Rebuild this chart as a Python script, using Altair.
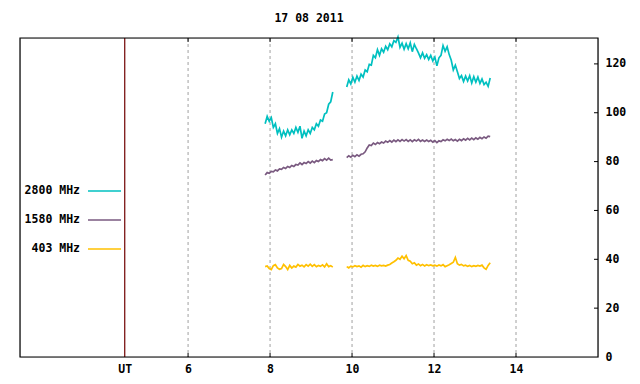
import altair as alt
import pandas as pd

# ---- data ----
SERIES = ["2800 MHz", "1580 MHz", "403 MHz"]
COLORS = ["#00c0c0", "#7a5a80", "#ffc000"]

SEG1_START, SEG1_STEP, SEG1_N = 7.88, 0.05, 34
SEG2_START, SEG2_STEP, SEG2_N = 9.87, 0.05, 71

f2800_s1 = [95.5, 98.5, 96.5, 98, 94, 95.5, 91.5, 93.5, 90, 92.5, 90.5, 93, 91, 93, 91.5, 94,
            92, 94.5, 89.5, 92.5, 90.5, 93, 91.5, 94, 93, 95.5, 94.5, 97, 96.5, 99.5, 100, 103.5,
            104.5, 108.5]
f1580_s1 = [74.5, 75.5, 75.2, 76, 75.8, 76.6, 76.2, 77, 76.8, 77.6, 77.2, 78, 77.6, 78.4, 78, 78.8,
            78.6, 79.5, 78.8, 79.6, 79.2, 80, 79.4, 80.2, 79.6, 80.4, 80, 80.8, 80.4, 81.2, 80.6, 81.4,
            80.6, 80.8]
f403_s1 = [37, 37.3, 36.2, 35.8, 37.4, 37.8, 36.5, 35.9, 36.2, 37.9, 37, 35.8, 37.5, 36.4, 37.2, 36.8,
           37.9, 37.2, 37.6, 36.9, 37.8, 37.2, 38, 37.1, 37.8, 37, 37.5, 37.1, 37.7, 36.9, 38.2, 37,
           37.4, 36.8]

f2800_s2 = [110.5, 113.5, 111.8, 114.5, 112.5, 115, 113.2, 115.8, 114.6, 117.5, 116.8, 119.8, 119.5,
            123.5, 122.5, 125.8, 123.5, 126.2, 124.8, 127.2, 125.8, 128.2, 127, 129.5, 128.8, 131,
            126.8, 128.5, 126, 128.3, 126.2, 128.6, 125, 128, 126.2, 124.5, 122.5, 124.5, 122.3, 123.8,
            121.8, 123.5, 121.2, 122.8, 119.2, 122.5, 123.5, 127.5, 125.2, 127, 123.8, 121.5, 117.5,
            119.5, 116.8, 114, 115.2, 112.8, 115, 113, 115.2, 112.2, 114.8, 112.5, 114.6, 112, 113.8,
            111.5, 112.5, 110.8, 114.2]
f1580_s2 = [81.6, 82.4, 81.8, 82.6, 82, 82.8, 82.2, 83, 83.2, 84, 85.6, 86.8, 86.6, 87.6, 87, 87.8,
            87.3, 88, 87.6, 88.4, 87.9, 88.6, 88, 88.8, 88.2, 88.9, 88.3, 89, 88.4, 89, 88.3, 88.9,
            88.2, 88.9, 88.4, 89.1, 88.3, 88.8, 88.2, 88.8, 88.2, 88.7, 88, 88.6, 87.8, 88.5, 88.2,
            88.9, 88.5, 89.1, 88.6, 89.2, 88.5, 89, 88.4, 89.1, 88.6, 89.3, 88.8, 89.5, 88.9, 89.6,
            89, 89.7, 89.2, 89.9, 89.4, 90.1, 89.6, 90.4, 90.2]
f403_s2 = [37, 36.5, 37.2, 36.9, 37.4, 37, 37.3, 36.8, 37.5, 37, 37.4, 37.1, 37.6, 37.2, 37.5, 37.1,
           37.6, 37.3, 37.5, 37.2, 37.6, 37.9, 38.5, 39, 39.6, 40.5, 40, 41.3, 40.2, 41.5, 39.6, 39.2,
           38.2, 38.6, 37.6, 38.1, 37.4, 37.9, 37.3, 37.8, 37.4, 37.7, 37.3, 37.6, 37.2, 37.7, 37.3,
           37.8, 37, 37.4, 37.8, 38.3, 38.8, 40.8, 38.2, 37.6, 37.9, 37.3, 37.6, 37.1, 37.5, 37,
           37.4, 37.1, 37.5, 37.2, 37.6, 36.5, 35.9, 37.5, 38.6]

X_TICKS = [6, 8, 10, 12, 14]
UT_POS = 4.455
Y_TICKS = [0, 20, 40, 60, 80, 100, 120]
X_DOMAIN = [1.9, 16.0]
Y_DOMAIN = [0, 130.6]
TITLE = "17 08 2011"

# ---- build table ----
rows = []
segs = [
    (SEG1_START, SEG1_STEP, SEG1_N, [f2800_s1, f1580_s1, f403_s1], 1),
    (SEG2_START, SEG2_STEP, SEG2_N, [f2800_s2, f1580_s2, f403_s2], 2),
]
for start, step, n, vals, seg in segs:
    for name, arr in zip(SERIES, vals):
        for i, v in enumerate(arr):
            rows.append({"t": round(start + step * i, 3), "v": v, "series": name, "seg": seg,
                         "key": f"{name}-{seg}"})
df = pd.DataFrame(rows)

FONT = "DejaVu Sans Mono"
W, H = 578, 319

xscale = alt.Scale(domain=X_DOMAIN, nice=False, zero=False)
yscale = alt.Scale(domain=Y_DOMAIN, nice=False)
cscale = alt.Scale(domain=SERIES, range=COLORS)

lines = alt.Chart(df).mark_line(strokeWidth=1.7, interpolate="linear").encode(
    x=alt.X("t:Q", scale=xscale,
            axis=alt.Axis(values=[UT_POS] + X_TICKS, title=None, grid=False, ticks=False,
                          domain=False, labelFont=FONT, labelFontSize=11.5, labelFontWeight="bold",
                          labelColor="black", labelPadding=6,
                          labelExpr="datum.value < 5 ? 'UT' : datum.label")),
    y=alt.Y("v:Q", scale=yscale,
            axis=alt.Axis(orient="right", values=Y_TICKS, title=None, grid=False, ticks=False,
                          domain=False, labelFont=FONT, labelFontSize=11.5, labelFontWeight="bold",
                          labelColor="black", labelPadding=7)),
    color=alt.Color("series:N", scale=cscale, legend=None),
    detail="key:N",
)

grid_df = pd.DataFrame({"t": X_TICKS})
grid = alt.Chart(grid_df).mark_rule(color="#a0a0a0", strokeDash=[3, 3], strokeWidth=1).encode(
    x=alt.X("t:Q", scale=xscale), y=alt.value(0), y2=alt.value(H))
top_ticks = alt.Chart(grid_df).mark_rule(color="black", strokeWidth=1).encode(
    x=alt.X("t:Q", scale=xscale), y=alt.value(0), y2=alt.value(4))
bot_ticks = alt.Chart(grid_df).mark_rule(color="black", strokeWidth=1).encode(
    x=alt.X("t:Q", scale=xscale), y=alt.value(H - 4), y2=alt.value(H))

ut_df = pd.DataFrame({"t": [UT_POS]})
ut_line = alt.Chart(ut_df).mark_rule(color="#700000", strokeWidth=1.2).encode(
    x=alt.X("t:Q", scale=xscale), y=alt.value(0), y2=alt.value(H))

ytick_df = pd.DataFrame({"v": Y_TICKS[1:]})
y_ticks = alt.Chart(ytick_df).mark_rule(color="black", strokeWidth=1).encode(
    y=alt.Y("v:Q", scale=yscale), x=alt.value(W - 4), x2=alt.value(W))

frame = alt.Chart(pd.DataFrame({"k": [0]})).mark_rect(
    filled=False, stroke="black", strokeWidth=1.2).encode(
    x=alt.value(0), x2=alt.value(W), y=alt.value(0), y2=alt.value(H))

leg_df = pd.DataFrame({"series": SERIES, "idx": [0, 1, 2]})
leg_text = alt.Chart(leg_df).mark_text(align="right", baseline="middle", font=FONT, fontSize=11.5,
                                       fontWeight="bold", color="black").transform_calculate(
    ypx="153 + 29 * datum.idx").encode(
    x=alt.value(60), y=alt.Y("ypx:Q", scale=None), text="series:N")
leg_line = alt.Chart(leg_df).mark_rule(strokeWidth=1.3).transform_calculate(
    ypx="153 + 29 * datum.idx").encode(
    x=alt.value(68), x2=alt.value(101), y=alt.Y("ypx:Q", scale=None),
    color=alt.Color("series:N", scale=cscale, legend=None))

chart = alt.layer(grid, top_ticks, bot_ticks, y_ticks, ut_line, lines, frame, leg_line, leg_text).properties(
    width=W, height=H,
    title=alt.TitleParams(TITLE, font=FONT, fontSize=11.5, fontWeight="bold", color="black",
                          anchor="middle", offset=9),
    autosize=alt.AutoSizeParams(type="none"),
    padding={"left": 12, "top": 30, "right": 34, "bottom": 18},
).configure_view(stroke=None).configure(background="white")

chart.save("out.html", embed_options={"renderer": "svg", "actions": False})
